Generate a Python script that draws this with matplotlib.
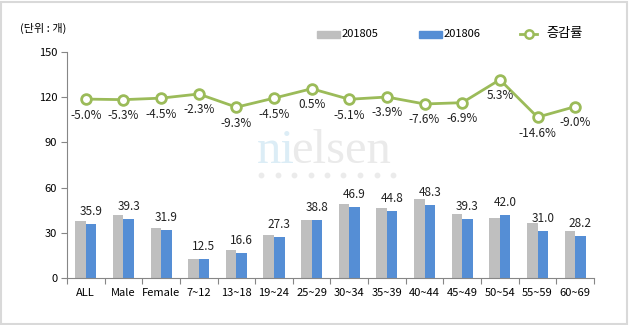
import matplotlib

matplotlib.use('Agg')
import matplotlib.pyplot as plt
from matplotlib.patches import Rectangle
from matplotlib.lines import Line2D

plt.rcParams['font.family'] = ['Noto Sans CJK KR', 'DejaVu Sans']

# data
categories = ['ALL', 'Male', 'Female', '7~12', '13~18', '19~24', '25~29', '30~34',
              '35~39', '40~44', '45~49', '50~54', '55~59', '60~69']
prev_month = [37.8, 41.5, 33.4, 12.8, 18.3, 28.6, 38.6, 49.4, 46.6, 52.3, 42.2, 39.9, 36.3, 31.0]
this_month = [35.9, 39.3, 31.9, 12.5, 16.6, 27.3, 38.8, 46.9, 44.8, 48.3, 39.3, 42.0, 31.0, 28.2]
growth = [-5.0, -5.3, -4.5, -2.3, -9.3, -4.5, 0.5, -5.1, -3.9, -7.6, -6.9, 5.3, -14.6, -9.0]
y_ticks = [0, 30, 60, 90, 120, 150]
legend_labels = ['201805', '201806', '증감률']

gray = '#BFBFBF'
blue = '#558ED5'
green = '#9BBB59'
axis_col = '#868686'

W, H = 630, 325
fig = plt.figure(figsize=(6.3, 3.25), dpi=100)
fig.patches.append(Rectangle((0.002, 0.003), 0.994, 0.992, transform=fig.transFigure,
                             fill=False, edgecolor='#D9D9D9', linewidth=1.5))


def fx(px):
    return px / W


def fy(py):
    return 1 - py / H


ax = fig.add_axes([0.1063, 0.1446, 0.8365, 0.6954])
x = list(range(len(categories)))
w = 0.28

# watermark
t1 = fig.text(fx(257), fy(163), 'ni', fontsize=35, family='Liberation Serif', color='#DCEDF6',
              ha='left', va='baseline', zorder=0)
fig.canvas.draw()
ext = t1.get_window_extent()
fig.text((ext.x1 - 4) / W, fy(163), 'elsen', fontsize=35, family='Liberation Serif',
         color='#EAEAEA', ha='left', va='baseline', zorder=0)
fig.add_artist(Line2D([fx(261 + 16.5 * i) for i in range(9)], [fy(175)] * 9,
                      transform=fig.transFigure, linestyle='none', marker='o',
                      markersize=3.2, color='#EBEBEB', zorder=0))

ax.bar([i - w / 2 for i in x], prev_month, width=w, color=gray, zorder=2)
ax.bar([i + w / 2 for i in x], this_month, width=w, color=blue, zorder=2)
for i, v in enumerate(this_month):
    ax.annotate(f'{v:.1f}', (i + w / 2, v), xytext=(0, 9), textcoords='offset points',
                ha='center', va='center', fontsize=8.5, color='#222222')

ax.set_xlim(-0.5, len(categories) - 0.5)
ax.set_ylim(0, 150)
ax.set_yticks(y_ticks)
ax.tick_params(axis='y', labelsize=8, length=4, color=axis_col, pad=3)
ax.set_xticks([i - 0.5 for i in range(len(categories) + 1)])
ax.set_xticklabels([])
ax.tick_params(axis='x', which='major', length=4, color=axis_col)
ax.set_xticks(x, minor=True)
ax.set_xticklabels(categories, minor=True, fontsize=8)
ax.tick_params(axis='x', which='minor', length=0, pad=7)
for s in ['top', 'right']:
    ax.spines[s].set_visible(False)
for s in ['left', 'bottom']:
    ax.spines[s].set_color(axis_col)
ax.patch.set_alpha(0)

# growth line on hidden secondary axis
ax2 = ax.twinx()
ax2.set_ylim(-100, 20)
ax2.axis('off')
ax2.plot(x, growth, color=green, linewidth=2, marker='o', markersize=7,
         markerfacecolor='white', markeredgecolor=green, markeredgewidth=2, zorder=3)
for i, g in enumerate(growth):
    ax2.annotate(f'{g:.1f}%', (i, g), xytext=(0, -11.5), textcoords='offset points',
                 ha='center', va='center', fontsize=8.5, color='#222222')

fig.text(fx(20), fy(28), '(단위 : 개)', fontsize=8, ha='left', va='center')

# legend drawn by hand
fig.patches.append(Rectangle((fx(317), fy(38)), fx(23), 7 / H, transform=fig.transFigure,
                             color=gray))
fig.text(fx(342), fy(34), legend_labels[0], fontsize=8, ha='left', va='center')
fig.patches.append(Rectangle((fx(419), fy(38)), fx(23), 7 / H, transform=fig.transFigure,
                             color=blue))
fig.text(fx(444), fy(34), legend_labels[1], fontsize=8, ha='left', va='center')
fig.add_artist(Line2D([fx(520), fx(537)], [fy(34), fy(34)], transform=fig.transFigure,
                      color=green, linewidth=2))
fig.add_artist(Line2D([fx(528.5)], [fy(34)], transform=fig.transFigure, marker='o',
                      markersize=6, markerfacecolor='white', markeredgecolor=green,
                      markeredgewidth=1.8))
fig.text(fx(546), fy(34), legend_labels[2], fontsize=9.5, ha='left', va='center')

fig.savefig('out.png', dpi=100)
